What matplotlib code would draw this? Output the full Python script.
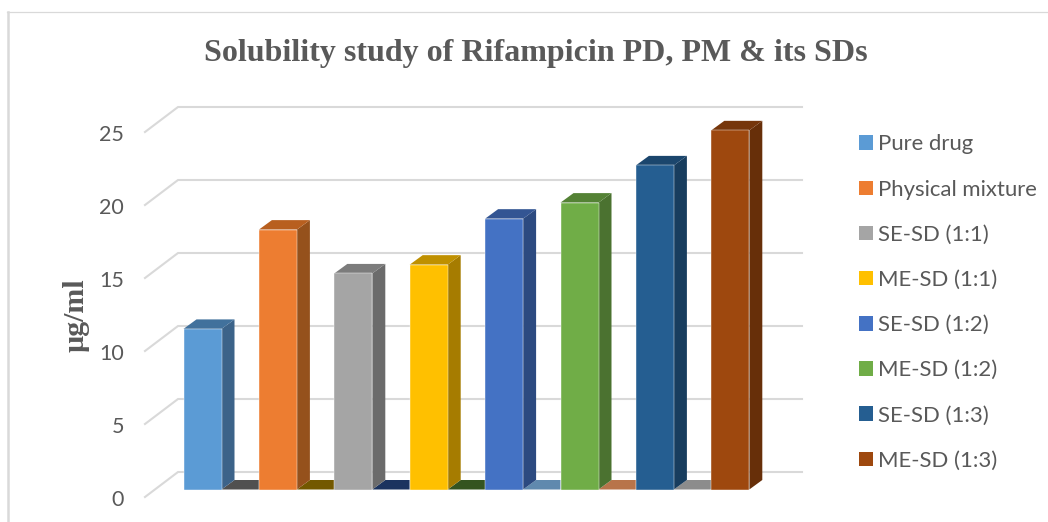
import matplotlib
matplotlib.use('Agg')
import matplotlib.pyplot as plt
from matplotlib.lines import Line2D
from matplotlib.patches import Polygon, Patch
import numpy as np

categories = ['Pure drug', 'Physical mixture', 'SE-SD (1:1)', 'ME-SD (1:1)',
              'SE-SD (1:2)', 'ME-SD (1:2)', 'SE-SD (1:3)', 'ME-SD (1:3)']
values = [11.0, 17.8, 14.8, 15.4, 18.55, 19.65, 22.2, 24.6]
front_colors = ['#5b9bd5', '#ed7d31', '#a5a5a5', '#ffc000',
                '#4472c4', '#70ad47', '#255e91', '#9e480e']
top_colors = ['#41719c', '#b85f1f', '#7c7c7c', '#bf9000',
              '#335593', '#548235', '#1b466d', '#76360b']
side_colors = ['#3c6389', '#95511c', '#6b6b6b', '#a67c00',
               '#2c4a80', '#4b7230', '#183d5e', '#672f09']
floor_colors = ['#505050', '#735800', '#1b335f', '#345420',
                '#6089ae', '#b8744a', '#8c8c8c']
ticks = [0, 5, 10, 15, 20, 25]

W, H = 1048, 522
PX_Y = 14.6   # pixels per ug/ml
PX_X = 75.4   # pixels per category
bar_width = 38 / PX_X
depth_x = 13 / PX_X
depth_y = 9.5 / PX_Y
wall_x = 33 / PX_X
wall_y = 25 / PX_Y
front_y = -7.5 / PX_Y    # the front edge of the floor sits below the bars
label_y = -8.5 / PX_Y    # tick labels sit a touch lower than the grid ends
x0 = -(202.5 - 145) / PX_X

fig = plt.figure(figsize=(W / 100, H / 100), dpi=100)
ax = fig.add_axes([145 / W, 1 - 510 / H, (802 - 145) / W, 410 / H])
ax.set_xlim(x0, x0 + (802 - 145) / PX_X)
ax.set_ylim(-20.5 / PX_Y, 389.5 / PX_Y)
for spine in ax.spines.values():
    spine.set_visible(False)
ax.set_xticks([])

# grid: short slanted part on the side wall, then along the back wall
x1 = ax.get_xlim()[1]
for t in ticks:
    ax.plot([x0, x0 + wall_x, x1], [t + front_y, t + front_y + wall_y, t + front_y + wall_y],
            color='#d9d9d9', lw=1.5, zorder=1, clip_on=False)

ax.set_yticks(np.array(ticks) + label_y, [str(t) for t in ticks],
              fontsize=15.5, color='#595959', family='Lato')
ax.tick_params(axis='y', length=0, pad=15)

idx = np.arange(len(values))
left = idx - bar_width / 2

# floor strips between neighbouring bars
for i, c in enumerate(floor_colors):
    ax.add_patch(Polygon([(left[i] + bar_width, 0), (left[i] + bar_width + depth_x, depth_y),
                          (left[i + 1], depth_y), (left[i + 1], 0)],
                         facecolor=c, edgecolor='none', zorder=2))

ax.bar(idx, values, width=bar_width, color=front_colors, zorder=4,
       edgecolor='#ffffff', linewidth=0.3)
for i, v in enumerate(values):
    r = left[i] + bar_width
    ax.add_patch(Polygon([(r, 0), (r + depth_x, depth_y), (r + depth_x, v + depth_y), (r, v)],
                         facecolor=side_colors[i], edgecolor='none', zorder=3))
    ax.add_patch(Polygon([(left[i], v), (left[i] + depth_x, v + depth_y),
                          (r + depth_x, v + depth_y), (r, v)],
                         facecolor=top_colors[i], edgecolor='none', zorder=3))

ax.set_ylabel('µg/ml', fontsize=21.5, fontweight='bold', color='#595959',
              family='Liberation Serif')
ax.yaxis.set_label_coords((90 - 145) / (802 - 145), (510 - 315) / 410)

fig.text(535.5 / W, 1 - 53 / H, 'Solubility study of Rifampicin PD, PM & its SDs',
         ha='center', va='center', fontsize=23, fontweight='bold',
         color='#595959', family='Liberation Serif')

handles = [Patch(facecolor=c, label=n) for c, n in zip(front_colors, categories)]
fig.legend(handles=handles, loc='center left', bbox_to_anchor=(839 / W, 1 - 302.5 / H),
           frameon=False, prop={'family': 'Lato', 'size': 15.9}, labelcolor='#595959',
           handlelength=0.64, handleheight=0.64, handletextpad=0.23, labelspacing=1.14)

# chart frame: only the top and left edges show in the image
fig.add_artist(Line2D([8 / W, 8 / W], [0, 1 - 11.5 / H], color='#d9d9d9', lw=1.8,
                      transform=fig.transFigure))
fig.add_artist(Line2D([7 / W, 1], [1 - 11.5 / H, 1 - 11.5 / H], color='#d9d9d9', lw=0.9,
                      transform=fig.transFigure))

fig.savefig('out.png', dpi=100)
